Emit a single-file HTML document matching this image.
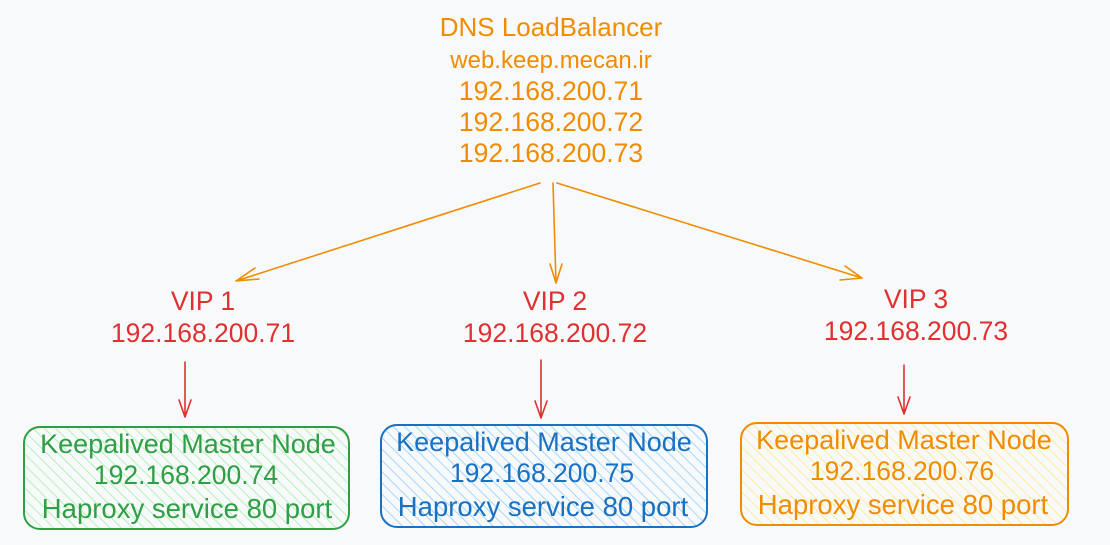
<!DOCTYPE html>
<html><head><meta charset="utf-8"><style>
html,body{margin:0;padding:0;background:#f8f9fa;}
svg{display:block}
text{font-family:"Liberation Sans",sans-serif;text-anchor:middle;}
</style></head><body>
<svg width="1110" height="545" viewBox="0 0 1110 545">
<defs>
<pattern id="hg" width="8" height="8" patternUnits="userSpaceOnUse" patternTransform="rotate(-45)"><line x1="0" y1="0" x2="0" y2="8" stroke="#b2f2bb" stroke-width="2"/></pattern>
<pattern id="hb" width="8" height="8" patternUnits="userSpaceOnUse" patternTransform="rotate(-45)"><line x1="0" y1="0" x2="0" y2="8" stroke="#a5d8ff" stroke-width="2"/></pattern>
<pattern id="hy" width="8" height="8" patternUnits="userSpaceOnUse" patternTransform="rotate(-45)"><line x1="0" y1="0" x2="0" y2="8" stroke="#ffec99" stroke-width="2"/></pattern>
</defs>
<rect width="1110" height="545" fill="#f8f9fa"/>
<g fill="#f08c00" font-size="26">
<text x="551" y="36">DNS LoadBalancer</text>
<text x="551" y="68" font-size="24">web.keep.mecan.ir</text>
<text x="551" y="100" font-size="26.5">192.168.200.71</text>
<text x="551" y="131" font-size="26.5">192.168.200.72</text>
<text x="551" y="162" font-size="26.5">192.168.200.73</text>
</g>
<g stroke="#f08c00" stroke-width="1.6" fill="none" stroke-linecap="round">
<path d="M540 183 L236 281 M236 281 L255 268 M236 281 L259 279"/>
<path d="M553 183 L556 283 M556 283 L550 264 M556 283 L562 264"/>
<path d="M557 183 L862 278 M862 278 L840 280 M862 278 L845 266"/>
</g>
<g fill="#e03131" font-size="26.5">
<text x="203" y="310">VIP 1</text>
<text x="203" y="342">192.168.200.71</text>
<text x="555" y="310">VIP 2</text>
<text x="555" y="342">192.168.200.72</text>
<text x="916" y="308">VIP 3</text>
<text x="916" y="340">192.168.200.73</text>
</g>
<g stroke="#e03131" stroke-width="1.6" fill="none" stroke-linecap="round">
<path d="M185 362 L185 417 M185 417 L179 400 M185 417 L191 400"/>
<path d="M541 360 L541 418 M541 418 L535 401 M541 418 L547 401"/>
<path d="M904 365 L904 414 M904 414 L898 397 M904 414 L910 397"/>
</g>
<rect x="24" y="427" width="325" height="102" rx="16" fill="url(#hg)" stroke="#2f9e44" stroke-width="2"/>
<rect x="381" y="425" width="326" height="102" rx="16" fill="url(#hb)" stroke="#1971c2" stroke-width="2"/>
<rect x="741" y="423" width="327" height="102" rx="16" fill="url(#hy)" stroke="#f08c00" stroke-width="2"/>
<g fill="#2f9e44" font-size="27">
<text x="188" y="453">Keepalived Master Node</text>
<text x="186" y="484" font-size="26.5">192.168.200.74</text>
<text x="187" y="518" font-size="27.5">Haproxy service 80 port</text>
</g>
<g fill="#1971c2" font-size="27">
<text x="544" y="451">Keepalived Master Node</text>
<text x="542" y="482" font-size="26.5">192.168.200.75</text>
<text x="543" y="516" font-size="27.5">Haproxy service 80 port</text>
</g>
<g fill="#f08c00" font-size="27">
<text x="904" y="449">Keepalived Master Node</text>
<text x="902" y="480" font-size="26.5">192.168.200.76</text>
<text x="903" y="514" font-size="27.5">Haproxy service 80 port</text>
</g>
</svg>
</body></html>
